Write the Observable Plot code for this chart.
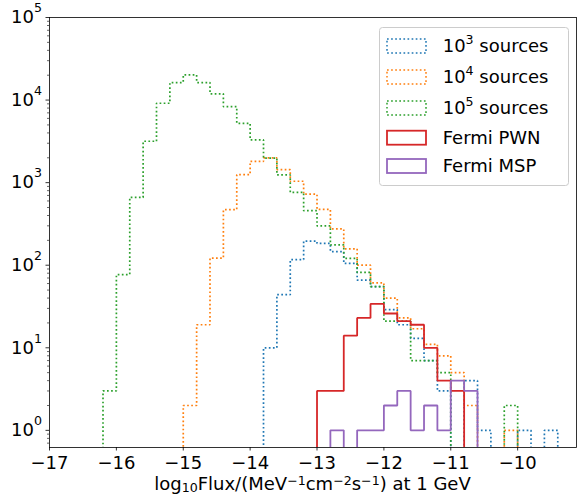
<!DOCTYPE html>
<html><head><meta charset="utf-8">
<script src="https://cdn.jsdelivr.net/npm/d3@7"></script>
<script src="https://cdn.jsdelivr.net/npm/@observablehq/plot@0.6"></script>
<style>html,body{margin:0;padding:0;background:#fff} svg{display:block}</style>
</head><body><div id="chart"></div>
<script>
// Bin edges of log10 flux (shared by all histograms)
const binEdges = [-16.2,-16.0,-15.8,-15.6,-15.4,-15.2,-15.0,-14.8,-14.6,-14.4,-14.2,-14.0,-13.8,-13.6,-13.4,-13.2,-13.0,-12.8,-12.6,-12.4,-12.2,-12.0,-11.8,-11.6,-11.4,-11.2,-11.0,-10.8,-10.6,-10.4,-10.2,-10.0,-9.8,-9.6,-9.4];
// Counts per bin (one per left edge above)
const counts1e3 = [0,0,0,0,0,0,0,0,0,0,0,0,10,44,117,196,184,146,105,66,55,29,19,13,7,3,0,4,1,0,0,1,0,1];
const counts1e4 = [0,0,0,0,0,0,2,19,122,471,1250,1810,1990,1440,1040,725,475,275,158,100,61,40,23,17,11,8,5,2,0,0,1,0,0,0];
const counts1e5 = [3,77,663,3170,9150,16300,20200,16300,11900,8340,5230,3295,1980,1240,763,458,299,176,121,82,55,21,21,7,7,5,0,0,0,0,2,0,0,0];
const countsPWN = [0,0,0,0,0,0,0,0,0,0,0,0,0,0,0,0,3,3,14,23,34,26,21,19,10,4,3,0,0,0,0,0,0,0];
const countsMSP = [0,0,0,0,0,0,0,0,0,0,0,0,0,0,0,0,0,1,0,1,1,2,3,1,2,1,4,3,0,0,0,0,0,0];

const seriesBase = ["10","10","10","Fermi PWN","Fermi MSP"];
const seriesSup = ["3","4","5","",""];
const seriesRest = [" sources"," sources"," sources","",""];
const seriesColors = ["#1f77b4","#ff7f0e","#2ca02c","#d62728","#9467bd"];
const seriesDotted = [true,true,true,false,false];
const seriesCounts = [counts1e3, counts1e4, counts1e5, countsPWN, countsMSP];

const xTicks = [-17,-16,-15,-14,-13,-12,-11,-10];
const yTicks = [1,10,100,1000,10000,100000];
const Y_MIN = 0.62, Y_MAX = 1e5;
const yMinor = [];
for (const p of [0.1,1,10,100,1000,10000]) for (let k = 2; k <= 9; k++) { const v = k*p; if (v >= Y_MIN && v <= Y_MAX) yMinor.push(v); }

const FLOOR = 1e-3;
function stepPoints(counts) {
  const pts = [{x: binEdges[0], y: FLOOR}];
  counts.forEach((c, i) => {
    const v = c > 0 ? c : FLOOR;
    pts.push({x: binEdges[i], y: v}, {x: binEdges[i+1], y: v});
  });
  pts.push({x: binEdges[binEdges.length-1], y: FLOOR});
  return pts;
}

const minus = d => (d < 0 ? "\u2212" : "") + Math.abs(d);
const FONT = "DejaVu Sans";
const DOT = "1.7,2.4";

const lineMarks = seriesCounts.map((c, i) => Plot.line(stepPoints(c), {
  x: "x", y: "y", stroke: seriesColors[i], clip: true,
  strokeWidth: seriesDotted[i] ? 1.7 : 1.8,
  strokeDasharray: seriesDotted[i] ? DOT : null,
  strokeLinecap: "butt", strokeLinejoin: "miter"
}));

const svg = Plot.plot({
  width: 577, height: 495,
  marginLeft: 49, marginRight: 1, marginTop: 17, marginBottom: 48,
  style: {fontFamily: FONT, fontSize: "18px", background: "#fff", color: "#000"},
  x: {domain: [-17, -9.12], label: null},
  y: {type: "log", domain: [Y_MIN, Y_MAX], label: null},
  marks: [
    ...lineMarks,
    Plot.frame({stroke: "#000", strokeWidth: 0.8}),
    Plot.axisX({ticks: xTicks, tickSize: 3.5, tickPadding: 5, tickFormat: minus, fontSize: 18, label: null, strokeWidth: 0.8}),
    Plot.axisY({ticks: yTicks, tickSize: 3.5, tickPadding: 4, tickFormat: d => String(Math.round(Math.log10(d))), fontSize: 18, label: null, strokeWidth: 0.8}),
    Plot.axisY({ticks: yMinor, tickSize: 2, tickFormat: () => "", label: null, strokeWidth: 0.6})
  ]
});
document.getElementById("chart").appendChild(svg);

const s = d3.select(svg);
s.selectAll('g[aria-label="x-axis label"], g[aria-label="y-axis label"]').remove();
// y tick labels as 10^k
s.selectAll('g[aria-label="y-axis tick label"] text').each(function() {
  const t = this.textContent;
  if (!t) { d3.select(this).remove(); return; }
  const el = d3.select(this);
  el.text(null);
  el.append("tspan").text("10");
  el.append("tspan").attr("font-size", 12.6).attr("dy", -11).text(t);
});

// x label
const xl = s.append("text").attr("x", 312.5).attr("y", 490).attr("text-anchor", "middle")
  .attr("font-family", FONT).attr("font-size", 18).attr("fill", "#000");
const parts = [["log",0,18],["10",2,12.6],["Flux/(MeV",-2,18],["\u22121",-5.5,12.6],["cm",5.5,18],["\u22122",-5.5,12.6],["s",5.5,18],["\u22121",-5.5,12.6],[") at 1 GeV",5.5,18]];
parts.forEach(([txt, dy, fs]) => xl.append("tspan").attr("dy", dy).attr("font-size", fs).text(txt));

// legend
const lg = s.append("g").attr("font-family", FONT).attr("font-size", 18).attr("text-anchor", "start");
lg.append("rect").attr("x", 379.5).attr("y", 27.5).attr("width", 189).attr("height", 158).attr("rx", 3)
  .attr("fill", "#fff").attr("fill-opacity", 0.8).attr("stroke", "#cccccc").attr("stroke-width", 1);
const rowY = [46, 77, 108, 137.7, 166];
seriesColors.forEach((col, i) => {
  lg.append("rect").attr("x", 387).attr("y", rowY[i] - 7).attr("width", 39).attr("height", 14)
    .attr("fill", "none").attr("stroke", col).attr("stroke-width", seriesDotted[i] ? 1.5 : 1.8)
    .attr("stroke-dasharray", seriesDotted[i] ? DOT : null);
  const t = lg.append("text").attr("x", 442.7).attr("y", rowY[i] + 6.3).attr("fill", "#000").attr("text-anchor", "start");
  t.append("tspan").text(seriesBase[i]);
  if (seriesSup[i]) {
    t.append("tspan").attr("font-size", 12.6).attr("dy", -8).text(seriesSup[i]);
    t.append("tspan").attr("dy", 8).text(seriesRest[i]);
  }
});
</script>
</body></html>
